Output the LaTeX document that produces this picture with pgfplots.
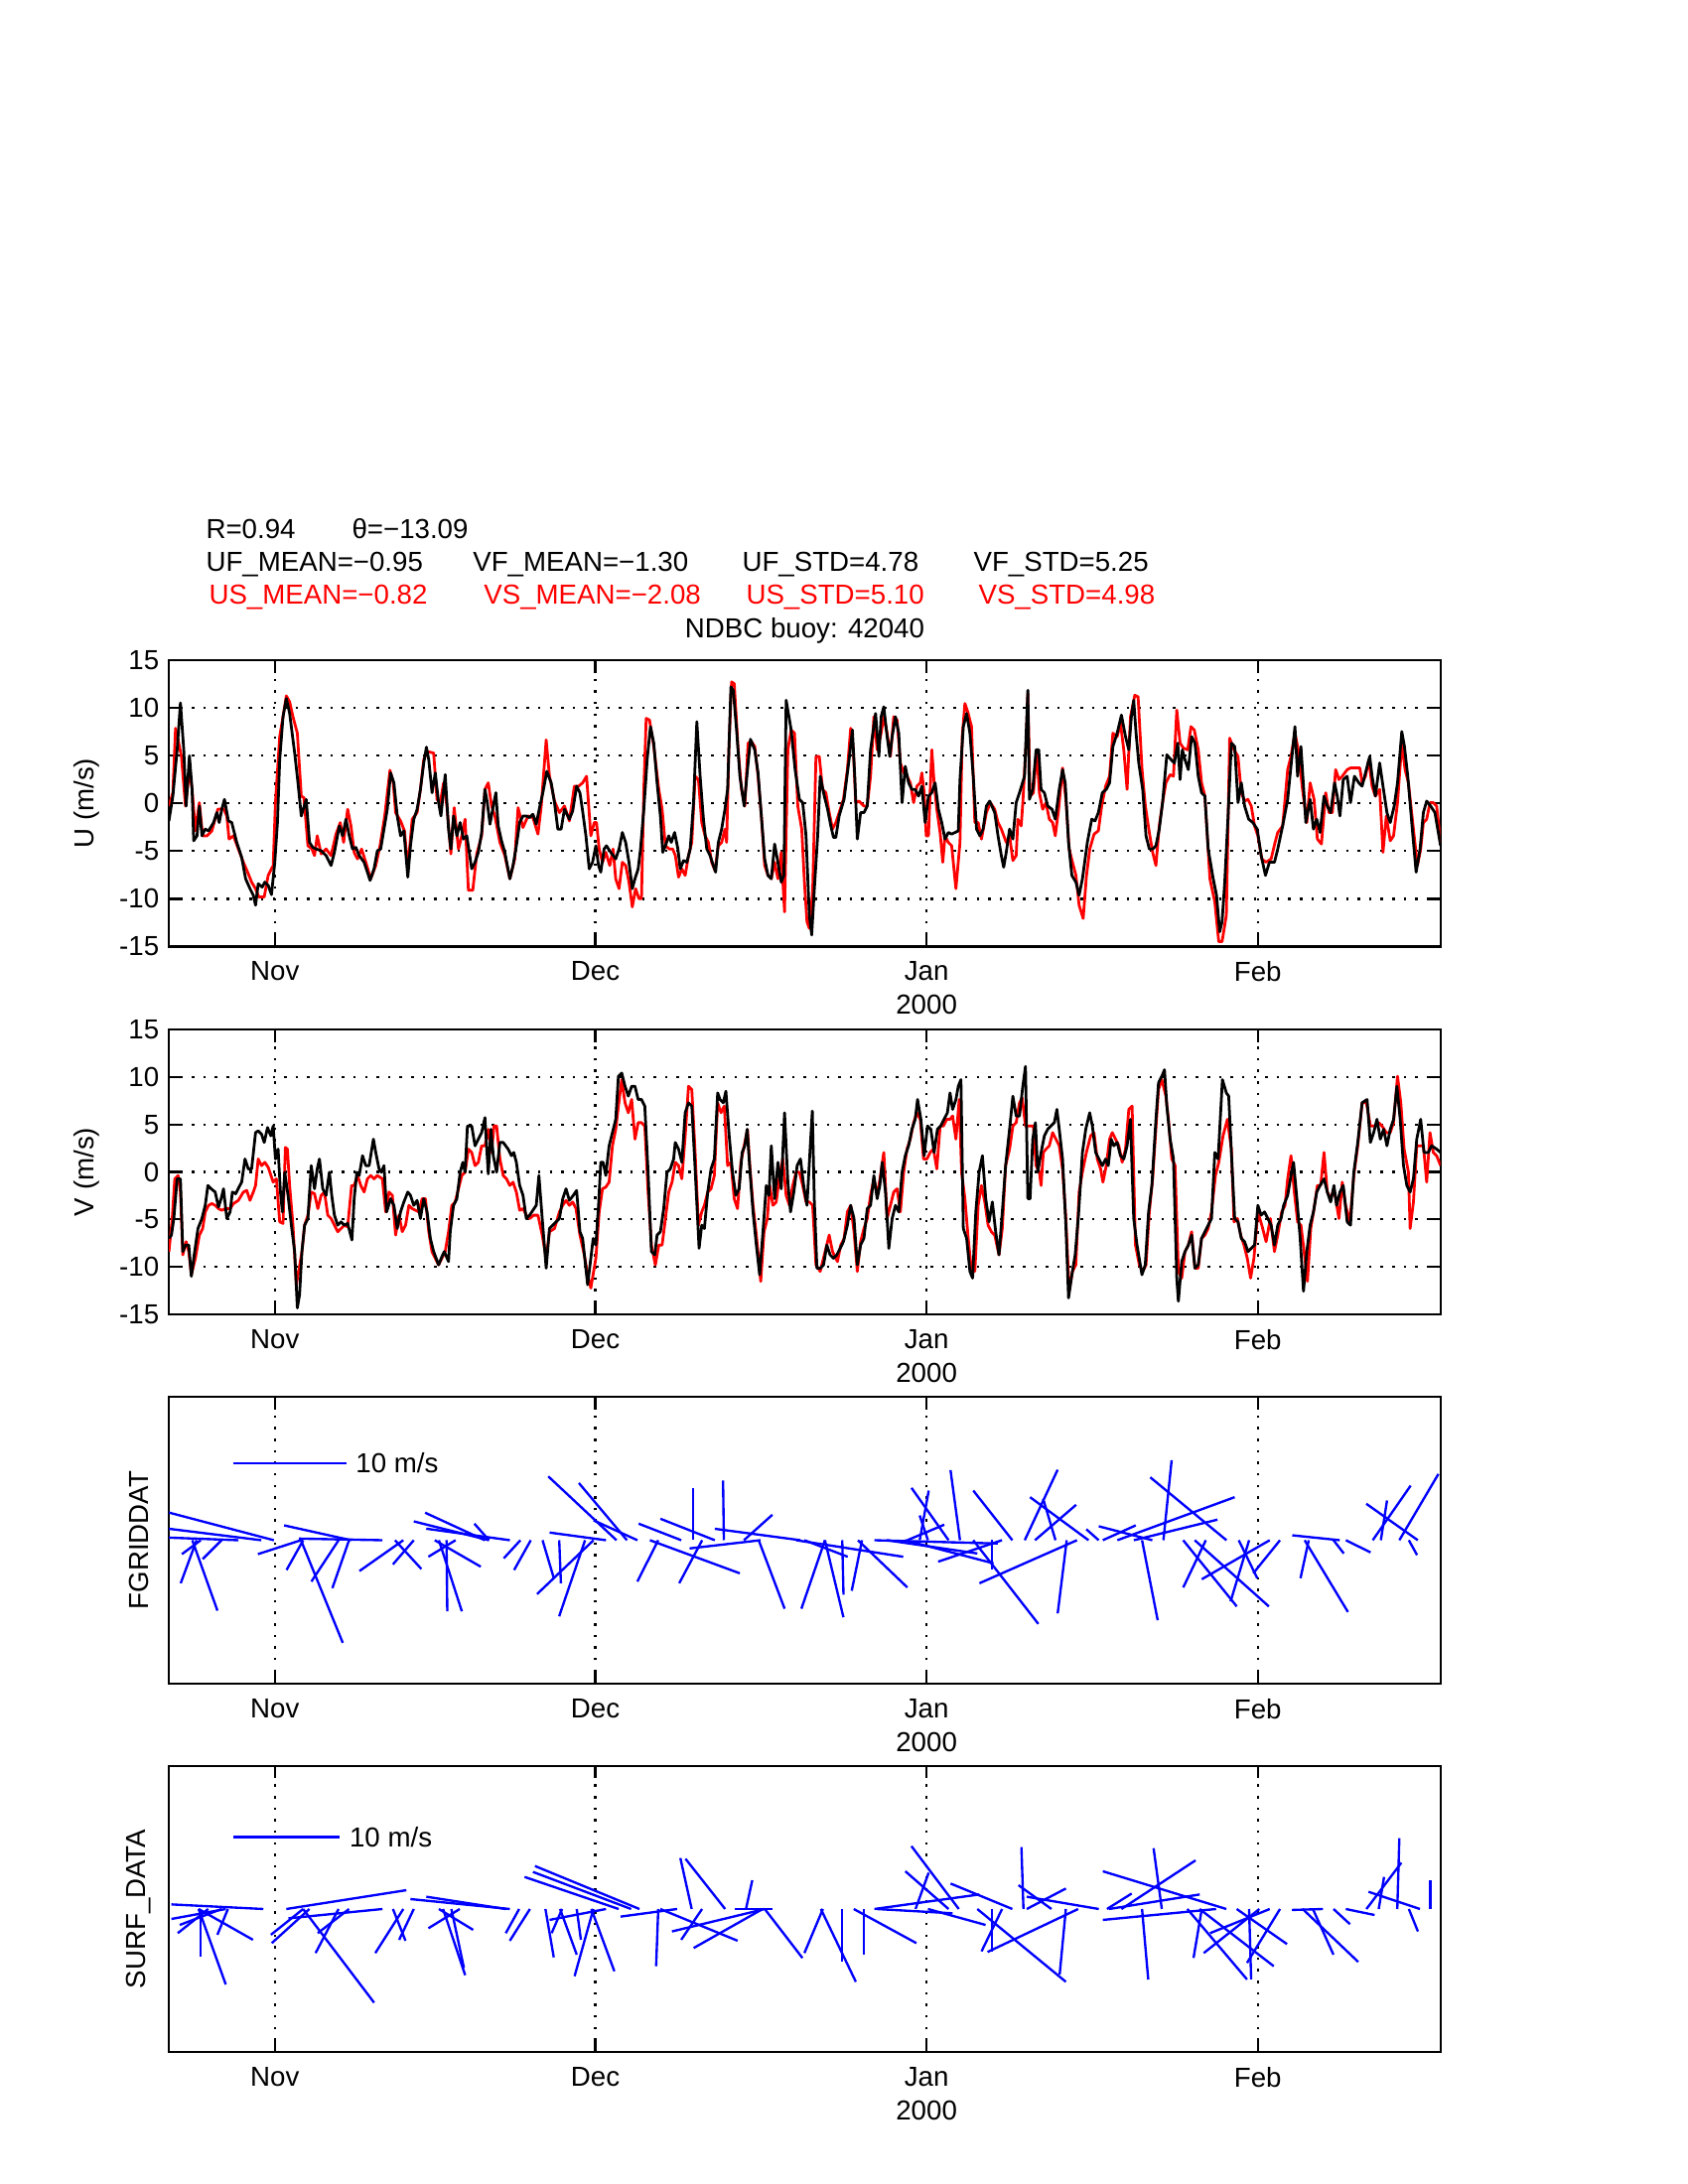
\documentclass[border=0pt]{standalone}
\usepackage{fontspec}
\setmainfont{Liberation Sans}
\usepackage{pgfplots}
\pgfplotsset{compat=1.18}
\pgfplotsset{
  mlab/.style={
    scale only axis, width=462.78pt, anchor=south west,
    xmin=-9.92, xmax=109.1,
    xtick={0,30,61,92}, xticklabels={Nov,Dec,{Jan\\2000},Feb},
    xticklabel style={align=center, yshift=-2pt, font=\fontsize{10}{12.3}\selectfont},
    tick align=inside, xtick pos=both, ytick pos=both,
    major tick length=4.6pt,
    every tick/.style={black, line width=0.8pt},
    axis line style={line width=0.8pt},
    major grid style={black, line width=0.8pt, dash pattern=on 0.9pt off 3.3pt},
    /pgf/number format/assume math mode=true,
    every axis y label/.style={at={(axis description cs:-0.0648,0.5)}, rotate=90, anchor=center},
  },
  ts/.style={mlab, ymin=-15, ymax=15, ytick={-15,-10,-5,0,5,10,15},
    yticklabels={-15,-10,-5,0,5,10,15}, grid=major},
  st/.style={mlab, ytick=\empty, xmajorgrids,
    every axis y label/.style={at={(axis description cs:-0.0234,0.5)}, rotate=90, anchor=center}},
  dl/.style={line width=1pt, line join=round},
  stk/.style={blue, line width=0.85pt},
}
\begin{document}
\begin{tikzpicture}
\useasboundingbox (0,0) rectangle (614.3pt,794.97pt);
% header
\node[anchor=base west, inner sep=0] at (74.80pt,598.76pt) {R=0.94};
\node[anchor=base west, inner sep=0] at (127.92pt,598.76pt) {θ=−13.09};
\node[anchor=base west, inner sep=0] at (74.80pt,586.94pt) {UF\_MEAN=−0.95};
\node[anchor=base west, inner sep=0] at (171.93pt,586.94pt) {VF\_MEAN=−1.30};
\node[anchor=base west, inner sep=0] at (269.93pt,586.94pt) {UF\_STD=4.78};
\node[anchor=base west, inner sep=0] at (354.12pt,586.94pt) {VF\_STD=5.25};
\node[anchor=base west, inner sep=0, red] at (75.88pt,574.91pt) {US\_MEAN=−0.82};
\node[anchor=base west, inner sep=0, red] at (175.91pt,574.91pt) {VS\_MEAN=−2.08};
\node[anchor=base west, inner sep=0, red] at (271.37pt,574.91pt) {US\_STD=5.10};
\node[anchor=base west, inner sep=0, red] at (355.93pt,574.91pt) {VS\_STD=4.98};
\node[anchor=base, inner sep=0] at (292.87pt,562.62pt) {NDBC buoy: 42040};

% ---------------- Panel 1: U ----------------
\begin{axis}[ts, at={(61.43pt,450.42pt)}, height=104.25pt, ylabel={U (m/s)}]
\addplot[red, dl] table {
x y
-9.91 -0.28
-9.54 1.11
-9.29 7.87
-9.05 6.65
-8.74 4.92
-8.36 -0.28
-7.99 3.53
-7.74 1.46
-7.43 -2.88
-7.06 0.07
-6.75 -3.40
-6.35 -3.40
-5.89 -2.88
-5.33 -0.62
-4.80 -0.55
-4.49 -1.32
-4.28 -3.74
-3.87 -3.40
-3.41 -4.78
-2.94 -6.17
-2.54 -7.21
-2.17 -8.25
-1.80 -8.94
-1.49 -9.81
-0.99 -9.81
-0.62 -7.55
-0.15 -6.51
0.06 0.07
0.46 7.00
0.77 9.08
1.08 11.26
1.39 10.64
1.70 9.08
2.11 7.35
2.48 0.76
2.73 0.59
3.10 -4.44
3.47 -4.78
3.72 -5.47
3.97 -3.40
4.34 -5.30
4.80 -4.78
5.27 -5.47
5.73 -3.22
6.13 -2.01
6.44 -4.09
6.82 -0.62
7.13 -2.36
7.43 -5.13
7.74 -5.82
8.12 -4.78
8.52 -6.17
8.98 -7.90
9.45 -6.51
9.85 -4.44
10.29 -1.32
10.78 3.47
11.09 2.15
11.31 -0.97
11.77 -1.84
12.14 -2.88
12.45 -6.86
12.86 -1.66
13.32 -0.97
13.63 1.46
13.94 4.57
14.25 5.44
14.87 5.27
15.18 0.42
15.49 0.07
15.80 2.15
16.11 -0.28
16.48 -5.30
16.79 -0.45
17.19 -4.78
17.50 -3.40
17.81 -1.66
18.12 -9.11
18.53 -9.11
18.90 -5.30
19.36 -3.40
19.67 1.46
19.98 2.15
20.29 -0.28
20.60 -1.32
21.07 -4.09
21.53 -5.47
22.00 -7.90
22.46 -5.82
22.77 -0.45
23.23 -2.53
23.70 -1.32
24.16 -1.49
24.63 -3.22
24.94 -0.28
25.40 6.65
25.71 2.84
26.18 0.24
26.64 -0.97
27.11 -0.28
27.57 -1.84
28.04 1.80
28.44 1.80
28.81 2.15
29.18 2.84
29.58 -3.40
29.90 -2.01
30.11 -2.01
30.36 -4.78
30.67 -6.17
30.98 -5.13
31.35 -6.51
31.66 -4.78
31.91 -7.90
32.22 -8.94
32.53 -6.17
32.84 -6.51
33.15 -8.25
33.46 -10.85
33.77 -8.94
34.08 -9.98
34.32 -9.98
34.54 1.46
34.76 8.91
35.07 8.73
35.47 5.96
35.94 1.46
36.25 -0.62
36.56 -4.44
36.93 -4.78
37.24 -4.78
37.49 -5.47
37.79 -7.73
38.10 -6.86
38.41 -7.55
38.72 -5.47
39.03 -4.09
39.34 2.84
39.65 2.49
39.96 -2.01
40.27 -3.40
40.58 -4.09
40.89 -6.17
41.20 -7.03
41.51 -4.44
41.82 -4.09
42.13 -2.70
42.29 -4.09
42.50 5.61
42.75 12.72
43.00 12.54
43.37 5.61
43.68 1.46
43.99 -0.28
44.30 6.31
44.61 6.48
44.92 5.96
45.23 2.84
45.54 -1.32
45.85 -6.51
46.16 -7.55
46.47 -7.90
46.78 -6.17
47.09 -7.90
47.40 -5.13
47.71 -11.37
48.02 5.61
48.33 7.69
48.64 7.35
48.95 -0.28
49.32 -2.70
49.57 -8.25
49.81 -12.40
50.03 -13.10
50.34 -9.29
50.65 4.92
50.96 4.92
51.27 1.46
51.58 1.11
51.89 -0.97
52.20 -2.70
52.51 -2.01
52.82 -0.97
53.22 0.42
53.59 3.53
53.90 7.87
54.15 5.61
54.37 0.07
54.68 0.24
55.14 -0.28
55.45 -0.28
55.76 2.84
56.07 9.08
56.38 5.61
56.69 7.00
57.00 9.08
57.31 7.35
57.62 4.92
57.93 9.08
58.24 8.73
58.55 4.23
58.86 3.19
59.17 2.84
59.48 2.15
59.79 0.07
60.10 1.80
60.41 2.15
60.56 3.19
60.78 1.11
60.97 -3.40
61.18 -3.40
61.49 5.61
61.71 2.15
61.96 -0.62
62.27 -3.05
62.52 -6.17
62.73 -3.40
63.04 -4.09
63.35 -4.44
63.75 -8.94
64.13 -4.09
64.34 7.00
64.59 10.46
64.90 9.42
65.21 8.04
65.52 -2.01
65.83 -2.01
66.14 -3.74
66.60 -0.97
66.98 0.07
67.38 -0.62
67.69 -2.01
68.00 -2.70
68.46 -4.09
68.77 -3.40
69.08 -5.99
69.39 -5.47
69.55 -1.66
69.86 -2.36
70.01 0.07
70.32 6.31
70.48 11.50
70.69 0.76
71.00 1.11
71.31 5.61
71.56 1.11
71.87 -0.62
72.18 0.07
72.49 -1.66
72.80 -2.01
73.05 -3.40
73.36 -0.62
73.73 3.71
74.04 0.42
74.35 -4.78
74.66 -6.17
74.98 -7.55
75.28 -10.67
75.66 -12.06
75.97 -7.55
76.28 -4.78
76.68 -3.22
77.08 -2.88
77.39 -0.28
77.76 1.80
78.13 2.84
78.44 7.35
78.84 7.00
79.15 8.39
79.46 5.61
79.77 1.46
80.09 9.08
80.49 11.33
80.80 11.16
81.17 3.53
81.48 -0.28
81.85 -3.05
82.16 -5.13
82.47 -6.51
82.78 -2.36
83.09 0.07
83.40 2.15
83.80 3.01
84.11 2.84
84.42 9.77
84.73 6.31
85.04 5.79
85.44 5.61
85.75 8.04
86.06 7.69
86.43 5.61
86.74 2.15
87.05 0.76
87.52 -7.90
87.98 -10.33
88.35 -14.48
88.66 -14.48
89.06 -11.71
89.37 6.83
89.78 5.61
90.15 4.92
90.46 1.11
90.77 0.24
91.08 0.42
91.39 -0.28
91.70 -2.36
92.01 -3.40
92.38 -5.82
92.78 -6.17
93.25 -5.82
93.62 -4.09
93.87 -3.05
94.33 -2.36
94.80 3.53
95.11 4.92
95.48 7.35
95.79 5.61
96.19 1.46
96.59 -2.01
96.90 2.15
97.27 0.42
97.58 -3.74
97.96 -4.26
98.36 1.11
98.67 -0.97
98.98 -0.97
99.29 3.53
99.60 2.49
99.91 2.84
100.37 3.53
100.68 3.71
101.15 3.71
101.55 3.71
101.77 2.15
102.08 2.84
102.39 4.57
102.70 1.80
103.01 0.76
103.41 1.46
103.72 -5.13
104.03 -1.32
104.40 -3.92
104.71 -3.40
105.08 0.07
105.48 6.31
105.79 3.53
106.10 2.15
106.57 -2.70
106.94 -6.51
107.25 -4.78
107.50 -2.01
107.81 -1.66
108.12 0.07
108.43 0.07
108.74 -0.28
109.11 -4.09
};
\addplot[black, dl] table {
x y
-9.91 -1.84
-9.54 0.76
-9.14 5.61
-8.83 10.53
-8.52 5.61
-8.30 -0.28
-7.99 4.99
-7.74 1.46
-7.59 -3.92
-7.28 -3.40
-7.06 -0.28
-6.82 -3.40
-6.51 -2.70
-6.20 -2.88
-5.73 -2.01
-5.42 -0.97
-5.20 -2.01
-4.96 -0.62
-4.71 0.42
-4.34 -1.84
-4.03 -2.01
-3.56 -4.09
-3.10 -5.65
-2.73 -7.90
-2.32 -8.94
-2.01 -9.63
-1.80 -10.67
-1.55 -8.42
-1.18 -8.77
-0.93 -8.25
-0.62 -8.59
-0.31 -9.56
0.00 -6.17
0.25 -2.01
0.46 4.57
0.77 9.08
1.08 10.98
1.39 9.42
1.86 5.27
2.17 2.15
2.48 -1.32
2.94 0.42
3.25 -4.09
3.56 -4.61
3.87 -4.78
4.34 -4.96
4.80 -5.47
5.27 -6.51
5.58 -5.13
6.04 -2.36
6.35 -3.40
6.66 -1.66
6.97 -3.40
7.28 -4.78
7.59 -4.61
7.90 -5.47
8.36 -6.17
8.92 -8.07
9.29 -6.86
9.60 -4.96
9.91 -4.78
10.22 -2.70
10.53 -0.62
10.84 3.19
11.15 2.15
11.46 -1.32
11.77 -3.40
12.08 -2.88
12.45 -7.73
12.70 -4.44
13.01 -1.66
13.32 -0.62
13.63 1.46
13.94 4.23
14.19 5.89
14.41 4.57
14.72 1.11
15.02 3.19
15.33 0.07
15.55 -1.32
15.95 3.01
16.26 -2.70
16.48 -4.78
16.73 -1.32
17.04 -3.40
17.35 -2.01
17.66 -3.74
17.97 -3.40
18.43 -6.86
18.74 -6.17
19.05 -5.13
19.36 -3.05
19.67 1.46
19.89 0.07
20.14 -2.18
20.45 -0.28
20.69 1.11
20.91 -2.36
21.22 -3.92
21.53 -5.13
22.00 -7.90
22.30 -6.51
22.61 -4.44
22.92 -2.01
23.23 -1.32
23.54 -1.32
23.85 -1.49
24.16 -1.14
24.47 -2.18
24.78 -0.45
25.09 1.11
25.46 3.36
25.87 2.15
26.18 0.07
26.49 -2.70
26.80 -2.70
27.11 -0.62
27.57 -1.66
27.88 -0.80
28.25 1.80
28.56 1.11
28.81 -0.80
29.12 -3.40
29.43 -6.86
29.74 -6.17
30.05 -4.44
30.30 -6.51
30.51 -7.21
30.82 -4.78
31.04 -4.44
31.44 -5.13
31.91 -5.82
32.22 -4.78
32.53 -3.05
32.84 -4.09
33.15 -6.17
33.46 -8.94
33.71 -7.90
34.01 -6.86
34.23 -4.78
34.54 -0.62
34.85 4.57
35.16 8.04
35.47 6.31
35.78 2.15
36.09 -1.32
36.31 -5.13
36.56 -4.44
36.87 -3.40
37.11 -4.09
37.42 -3.05
37.73 -4.78
37.95 -6.86
38.26 -5.99
38.57 -6.17
38.88 -4.78
39.19 0.07
39.50 8.56
39.81 2.84
40.12 -1.66
40.43 -4.78
40.74 -5.47
41.05 -6.51
41.26 -7.21
41.51 -4.09
41.82 -2.70
42.13 -0.62
42.38 1.46
42.69 12.20
42.91 11.85
43.22 7.69
43.53 2.84
43.93 -0.28
44.24 3.53
44.52 6.72
44.92 5.61
45.23 3.19
45.54 -1.32
45.85 -5.82
46.16 -7.55
46.47 -7.90
46.78 -4.26
47.09 -6.17
47.40 -8.25
47.65 -7.55
47.86 10.81
48.33 7.69
48.70 3.53
49.10 0.42
49.41 0.07
49.72 -3.40
50.03 -11.71
50.25 -13.79
50.50 -8.94
50.81 -3.40
51.05 2.84
51.43 0.76
51.74 -0.62
52.04 -2.36
52.29 -3.57
52.51 -3.57
52.82 -1.32
53.28 0.42
53.75 4.57
54.06 7.69
54.28 2.84
54.52 -3.74
54.83 -0.97
55.14 -0.97
55.45 -0.28
55.76 5.61
56.23 9.42
56.54 4.92
56.75 9.08
57.00 10.12
57.31 7.00
57.56 4.92
57.78 7.00
58.09 9.08
58.40 7.35
58.71 0.07
59.01 3.88
59.32 2.15
59.63 1.46
59.94 1.46
60.25 0.76
60.56 1.80
60.87 -2.01
61.18 0.76
61.49 1.11
61.80 2.15
62.11 -0.62
62.42 -2.01
62.73 -3.74
63.04 -3.05
63.35 -3.22
63.97 -2.88
64.13 2.49
64.44 8.04
64.75 9.42
65.06 7.35
65.37 2.84
65.68 -2.70
65.99 -3.40
66.29 -2.70
66.60 -0.28
66.91 0.24
67.38 -0.97
67.69 -3.40
68.00 -5.47
68.22 -6.69
68.46 -5.13
68.77 -2.70
69.08 -3.74
69.39 0.07
69.70 1.11
70.17 2.84
70.48 11.85
70.63 0.42
70.94 1.46
71.25 5.61
71.50 5.61
71.72 1.46
72.03 1.11
72.34 -0.28
72.74 -0.62
73.05 -1.66
73.42 1.46
73.73 3.53
73.98 2.15
74.29 -4.09
74.60 -7.55
74.98 -8.25
75.28 -9.63
75.59 -7.90
76.05 -4.09
76.46 -1.66
76.77 -1.84
77.08 -0.97
77.45 1.11
77.82 1.46
78.13 2.15
78.44 5.96
78.84 7.35
79.24 9.25
79.62 7.00
79.93 5.61
80.17 9.08
80.39 10.81
80.61 7.35
80.86 4.23
81.23 1.46
81.54 -3.40
81.85 -4.78
82.16 -4.78
82.47 -4.44
82.78 -2.70
83.09 0.07
83.49 5.09
83.89 4.57
84.20 4.23
84.51 6.31
84.73 2.49
84.94 5.61
85.19 4.57
85.50 3.53
85.81 7.00
86.12 6.31
86.43 2.84
86.74 1.11
87.05 0.76
87.36 -4.78
87.83 -7.90
88.14 -9.63
88.44 -13.45
88.66 -12.40
88.91 -8.25
89.22 -1.32
89.53 6.31
89.84 5.96
90.15 0.07
90.46 2.15
90.77 -0.28
91.15 -1.66
91.54 -2.01
91.95 -2.70
92.32 -5.47
92.72 -7.55
93.09 -6.17
93.56 -6.17
93.87 -4.78
94.33 -2.36
94.80 0.42
95.17 4.57
95.48 8.04
95.73 2.84
96.04 5.96
96.50 -2.01
96.90 0.42
97.21 -2.70
97.52 -1.66
97.83 -3.05
98.20 0.76
98.51 -0.28
98.82 -0.97
99.19 2.15
99.44 0.76
99.69 -1.32
100.00 2.49
100.37 2.84
100.68 0.07
101.05 2.84
101.46 2.15
101.77 1.80
102.08 3.19
102.48 4.92
102.70 2.84
103.01 0.76
103.41 4.23
103.72 1.80
104.09 -0.97
104.40 -2.01
104.77 -0.28
105.08 2.15
105.48 7.52
105.73 5.96
106.04 2.84
106.41 -2.01
106.82 -7.21
107.19 -4.78
107.50 -0.97
107.81 0.24
108.18 -0.28
108.58 -0.97
109.11 -4.44
};
\end{axis}

% ---------------- Panel 2: V ----------------
\begin{axis}[ts, at={(61.43pt,316.54pt)}, height=103.71pt, ylabel={V (m/s)}]
\addplot[red, dl] table {
x y
-9.91 -8.39
-9.60 -4.91
-9.36 -0.73
-9.05 -0.38
-8.83 -2.12
-8.61 -8.74
-8.30 -7.35
-8.05 -8.39
-7.81 -10.83
-7.43 -9.09
-7.06 -6.65
-6.75 -5.96
-6.51 -4.21
-6.20 -3.52
-5.89 -3.34
-5.58 -3.52
-5.27 -3.87
-4.96 -4.04
-4.65 -3.87
-4.18 -3.87
-3.87 -3.34
-3.41 -3.00
-2.94 -2.12
-2.63 -1.95
-2.32 -3.00
-2.01 -2.12
-1.80 -1.43
-1.55 1.36
-1.24 0.66
-0.93 1.01
-0.62 0.49
-0.15 -1.08
0.15 -0.73
0.46 -5.26
0.77 -5.43
0.99 2.58
1.18 2.40
1.39 -1.43
1.70 -5.61
2.01 -11.88
2.23 -10.48
2.54 -8.39
2.79 -5.61
3.10 -4.56
3.41 -2.12
3.72 -2.30
4.03 -3.87
4.34 -2.47
4.65 -2.12
4.96 -4.56
5.27 -4.91
5.58 -5.61
5.89 -6.30
6.20 -5.96
6.51 -5.61
6.82 -5.78
7.19 -1.43
7.43 -1.43
7.74 -0.38
8.05 -1.43
8.36 -2.12
8.67 -0.73
8.98 -0.38
9.29 -0.73
9.60 -0.38
10.07 -0.73
10.38 -4.21
10.69 -2.12
11.00 -2.47
11.31 -6.65
11.62 -4.56
11.93 -6.30
12.24 -5.61
12.55 -3.52
12.86 -3.87
13.17 -4.04
13.48 -4.21
13.79 -2.82
14.10 -2.82
14.41 -6.30
14.71 -8.39
15.02 -9.09
15.33 -9.79
15.64 -9.09
15.95 -8.39
16.26 -6.30
16.57 -3.52
16.88 -3.17
17.19 -1.78
17.50 -0.38
17.81 -0.03
18.12 2.40
18.43 2.05
18.74 0.66
19.05 1.01
19.36 2.75
19.67 2.75
19.98 4.49
20.29 2.05
20.51 4.84
20.76 4.84
21.07 1.36
21.38 -0.38
21.69 -0.73
22.00 -1.43
22.30 -1.08
22.61 -2.12
22.92 -4.04
23.23 -3.87
23.54 -4.56
23.85 -4.91
24.23 -4.56
24.63 -4.56
25.03 -6.65
25.40 -9.09
25.71 -6.30
26.18 -5.96
26.64 -4.21
26.95 -3.52
27.26 -3.00
27.57 -3.52
27.88 -3.17
28.19 -3.87
28.56 -6.65
28.97 -8.74
29.28 -10.83
29.58 -12.23
30.05 -9.09
30.36 -4.21
30.67 -1.78
30.98 -1.60
31.29 -1.08
31.60 2.75
31.91 4.49
32.16 6.93
32.47 9.72
32.78 7.28
33.09 6.23
33.40 7.63
33.71 3.45
34.01 5.19
34.32 5.19
34.63 4.84
34.94 -2.12
35.25 -7.70
35.62 -9.79
35.94 -7.70
36.25 -7.70
36.56 -4.91
36.87 -2.12
37.18 -1.08
37.49 1.01
37.79 0.66
38.10 -0.73
38.41 3.80
38.72 9.02
39.03 8.67
39.34 2.05
39.65 -5.61
39.96 -4.21
40.21 -3.52
40.52 -2.12
40.83 -1.78
41.14 -0.38
41.45 7.28
41.76 6.23
42.07 6.93
42.38 0.66
42.69 1.01
43.00 -2.82
43.31 -3.87
43.62 1.01
43.93 2.75
44.24 4.49
44.46 0.66
44.76 -3.52
45.07 -6.65
45.48 -11.53
45.79 -6.30
46.10 -4.91
46.32 -1.43
46.62 -3.52
46.93 -3.17
47.24 -0.38
47.55 1.36
47.86 -2.47
48.17 -3.52
48.48 -1.43
48.79 -0.03
49.10 -0.03
49.41 -1.43
49.72 -3.17
50.03 -3.17
50.34 -3.52
50.65 -9.79
51.05 -10.48
51.43 -8.74
51.89 -6.65
52.20 -8.39
52.66 -9.44
52.97 -7.70
53.28 -7.00
53.59 -4.21
53.90 -3.52
54.21 -6.30
54.52 -10.48
54.83 -7.35
55.14 -5.96
55.45 -4.91
55.76 -2.47
56.07 -0.73
56.38 -2.47
56.69 -0.38
57.00 2.05
57.31 -4.91
57.62 -3.52
57.93 -2.12
58.24 -1.78
58.55 -4.21
58.86 -0.03
59.17 2.40
59.48 3.45
59.79 5.19
60.10 6.23
60.41 5.54
60.72 1.36
61.03 1.36
61.34 2.05
61.65 2.40
61.96 0.31
62.27 4.84
62.58 4.84
62.89 5.54
63.20 5.54
63.44 5.89
63.75 3.45
64.06 7.63
64.28 -0.03
64.59 -2.82
64.90 -7.00
65.21 -10.48
65.52 -10.48
65.83 -3.52
66.14 -1.43
66.45 -3.17
66.76 -5.61
67.07 -6.30
67.38 -6.65
67.78 -8.74
68.09 -5.96
68.40 0.66
68.77 2.40
69.08 4.84
69.39 5.19
69.70 7.28
69.95 7.80
70.26 4.84
70.57 4.84
71.00 4.84
71.25 0.66
71.56 -0.03
71.72 -1.43
71.93 2.05
72.18 2.40
72.49 2.75
72.80 4.14
73.11 3.45
73.42 2.75
73.73 0.31
74.04 -4.91
74.35 -12.57
74.66 -10.48
74.97 -9.79
75.28 -2.12
75.59 -0.03
75.96 2.05
76.36 3.80
76.67 4.14
76.98 1.36
77.29 0.31
77.51 -1.08
77.82 0.66
78.13 3.45
78.38 4.14
78.69 3.45
79.00 2.75
79.31 1.01
79.62 2.40
79.93 6.58
80.24 6.93
80.55 -7.70
80.92 -9.79
81.23 -10.48
81.54 -9.79
81.85 -4.21
82.16 -0.73
82.40 3.45
82.71 8.67
83.02 9.72
83.40 7.98
83.64 5.54
83.95 1.36
84.26 0.66
84.57 -10.48
84.88 -11.18
85.19 -8.39
85.50 -7.70
85.81 -6.30
86.12 -10.14
86.43 -10.14
86.74 -7.00
87.05 -6.65
87.36 -5.96
87.67 -4.21
88.04 -0.38
88.35 1.01
88.75 3.80
89.16 5.54
89.53 2.40
89.78 -5.26
90.09 -4.91
90.40 -6.65
90.71 -7.70
91.02 -9.09
91.33 -11.18
91.64 -9.09
92.01 -4.21
92.38 -5.61
92.78 -7.35
93.18 -4.91
93.56 -8.39
93.87 -6.65
94.24 -4.21
94.55 -3.52
94.80 -0.73
95.11 1.71
95.42 -2.12
95.73 -5.26
96.04 -5.61
96.34 -8.39
96.65 -11.53
96.96 -5.96
97.27 -3.87
97.58 -1.43
97.89 -1.43
98.20 2.05
98.51 -2.12
98.82 -2.82
99.13 -1.78
99.60 -4.91
99.91 -1.08
100.22 -3.52
100.62 -5.26
100.99 -0.38
101.36 2.75
101.77 7.28
102.17 7.28
102.54 4.84
102.91 4.84
103.31 5.19
103.62 4.84
104.03 4.14
104.40 4.14
104.71 5.19
105.08 10.07
105.39 7.28
105.70 2.40
106.10 -0.03
106.26 -5.96
106.57 -3.17
106.88 2.75
107.19 2.75
107.50 2.75
107.81 -1.08
108.12 4.14
108.43 2.05
108.74 1.71
109.11 0.66
};
\addplot[black, dl] table {
x y
-9.91 -7.00
-9.67 -6.65
-9.45 -4.91
-9.14 -0.73
-8.83 -0.73
-8.61 -8.39
-8.36 -7.70
-8.05 -7.70
-7.81 -11.00
-7.50 -8.39
-7.19 -5.96
-6.82 -4.91
-6.51 -3.52
-6.26 -1.43
-5.95 -1.78
-5.58 -2.12
-5.27 -3.69
-5.02 -2.82
-4.80 -1.78
-4.49 -4.91
-4.18 -4.21
-3.97 -2.12
-3.66 -2.30
-3.35 -1.60
-3.10 -1.08
-2.79 1.36
-2.48 0.31
-2.17 0.31
-1.80 4.14
-1.55 4.32
-1.24 3.97
-0.99 3.10
-0.68 4.67
-0.37 3.80
-0.15 4.84
0.06 1.36
0.31 2.40
0.53 -2.12
0.71 -4.21
0.93 -0.03
1.24 -2.47
1.55 -5.61
1.86 -8.39
2.11 -14.32
2.32 -12.92
2.54 -8.39
2.79 -5.61
3.10 -4.91
3.41 0.66
3.72 -1.78
3.97 0.31
4.18 1.36
4.49 -1.78
4.80 -2.47
5.11 -0.03
5.33 -2.47
5.58 -4.56
5.89 -5.61
6.20 -5.26
6.51 -5.61
6.82 -5.43
7.22 -7.17
7.43 -2.82
7.68 -0.03
7.90 -0.38
8.21 1.71
8.52 0.66
8.83 0.66
9.23 3.45
9.45 2.05
9.76 0.31
9.98 -0.03
10.22 0.66
10.47 -4.21
10.84 -2.82
11.15 -3.52
11.46 -5.96
11.77 -4.21
12.08 -3.17
12.45 -2.12
12.70 -2.47
13.01 -3.52
13.32 -3.00
13.63 -4.91
13.94 -2.82
14.25 -4.21
14.56 -7.00
14.87 -8.39
15.33 -9.79
15.64 -8.92
15.86 -8.39
16.26 -9.44
16.42 -6.30
16.73 -3.52
17.04 -2.82
17.35 -0.03
17.60 1.01
17.81 -0.03
18.03 4.84
18.43 4.84
18.74 2.75
19.05 3.45
19.36 4.14
19.67 5.71
19.98 -0.21
20.23 4.49
20.45 1.71
20.76 -0.03
21.07 3.10
21.38 3.10
21.84 2.40
22.15 1.71
22.37 2.05
22.61 1.01
22.92 -1.43
23.23 -2.47
23.54 -4.91
23.85 -4.56
24.16 -4.04
24.47 -3.52
24.72 -0.38
25.03 -4.91
25.40 -10.14
25.71 -5.96
26.18 -5.43
26.64 -4.91
26.95 -2.82
27.26 -1.78
27.57 -3.00
27.94 -2.47
28.25 -1.95
28.56 -6.30
28.81 -7.00
29.28 -11.88
29.58 -9.09
29.80 -7.00
30.05 -7.70
30.30 -3.52
30.51 1.01
30.73 1.01
30.98 -0.38
31.29 2.75
31.60 4.14
31.91 5.54
32.16 10.07
32.47 10.41
32.78 9.02
33.09 7.98
33.40 9.02
33.71 9.02
34.01 7.63
34.32 7.63
34.63 6.93
34.94 -0.03
35.25 -8.39
35.56 -8.74
35.78 -6.65
36.09 -6.30
36.40 -3.87
36.71 -0.03
37.02 0.31
37.33 1.36
37.48 3.10
37.79 2.40
38.10 1.01
38.41 6.23
38.72 7.28
39.03 6.93
39.34 0.31
39.71 -8.05
39.96 -5.61
40.21 -5.96
40.52 -2.12
40.83 0.31
41.14 1.36
41.45 8.32
41.67 7.63
41.98 7.28
42.22 8.50
42.53 3.80
42.84 -0.03
43.15 -2.47
43.46 -1.78
43.74 2.05
43.99 2.75
44.21 4.49
44.46 0.31
44.76 -4.21
45.07 -7.70
45.38 -10.83
45.69 -6.30
46.00 -1.43
46.25 -2.47
46.47 2.75
46.78 -2.82
47.09 1.01
47.40 -1.78
47.71 6.23
48.02 -1.08
48.27 -4.21
48.58 -2.12
48.89 0.66
49.20 1.36
49.50 -1.43
49.81 -3.52
50.12 2.75
50.31 6.41
50.50 -3.17
50.74 -10.14
51.05 -10.14
51.36 -9.79
51.67 -7.70
51.98 -8.74
52.29 -9.09
52.60 -8.74
52.91 -8.05
53.22 -7.35
53.59 -5.61
53.90 -3.52
54.21 -4.91
54.52 -9.79
54.83 -7.70
55.14 -7.00
55.45 -3.87
55.76 -3.52
56.07 -0.38
56.38 -2.82
56.63 -1.43
56.85 1.01
57.16 -2.12
57.47 -8.05
57.78 -4.91
58.09 -3.52
58.40 -4.21
58.71 -0.03
59.01 1.71
59.32 2.75
59.63 4.49
59.94 5.54
60.16 7.63
60.47 5.54
60.78 1.71
61.09 4.84
61.40 4.49
61.71 2.05
62.02 4.49
62.33 4.84
62.64 5.54
62.95 6.23
63.20 8.32
63.44 6.58
63.75 7.63
63.97 9.02
64.22 9.72
64.44 -5.96
64.75 -7.00
65.06 -10.48
65.31 -11.18
65.61 -4.21
65.92 -0.03
66.23 1.71
66.54 -2.82
66.85 -5.26
67.16 -3.17
67.47 -6.30
67.78 -8.74
68.09 -4.21
68.40 0.66
68.77 4.49
69.08 7.98
69.39 5.89
69.70 5.89
70.01 9.02
70.26 11.11
70.48 -2.82
70.69 -2.82
70.94 3.45
71.19 5.19
71.41 -0.03
71.72 2.05
72.03 3.80
72.34 4.49
72.65 4.84
72.96 5.19
73.20 6.58
73.42 4.49
73.73 1.36
74.04 -5.61
74.29 -13.27
74.60 -10.83
74.91 -8.74
75.22 -4.56
75.59 2.05
75.90 4.49
76.27 6.23
76.52 4.84
76.83 2.05
77.14 1.36
77.45 0.66
77.76 1.36
78.01 0.66
78.28 3.45
78.53 2.75
78.84 3.10
79.15 1.71
79.46 1.36
79.77 2.75
80.08 5.54
80.39 -4.91
80.70 -7.70
81.16 -10.83
81.47 -9.79
81.78 -4.21
82.09 -1.43
82.47 5.54
82.71 9.37
83.02 10.07
83.27 10.76
83.49 6.93
83.80 3.45
84.11 1.36
84.42 -11.18
84.57 -13.62
84.88 -9.44
85.19 -8.39
85.50 -7.70
85.81 -6.65
86.12 -10.14
86.43 -9.79
86.74 -7.00
87.05 -6.30
87.36 -5.61
87.67 -4.91
87.98 2.05
88.29 1.36
88.69 9.72
89.06 8.32
89.28 7.98
89.53 2.05
89.84 -4.91
90.15 -5.26
90.46 -7.00
90.77 -7.35
91.08 -8.39
91.39 -8.05
91.70 -7.70
92.01 -3.52
92.32 -4.56
92.63 -4.21
92.94 -4.91
93.25 -5.61
93.56 -7.70
93.87 -5.61
94.18 -4.91
94.42 -3.52
94.80 -2.47
95.11 -0.38
95.35 1.01
95.66 -2.82
95.97 -7.00
96.28 -12.57
96.59 -8.39
96.90 -5.61
97.21 -4.21
97.52 -2.12
97.83 -1.43
98.20 -0.73
98.51 -2.12
98.82 -3.17
99.13 -1.43
99.38 -3.52
99.69 -2.12
100.00 -1.43
100.37 -5.26
100.68 -5.61
100.99 -0.03
101.36 3.10
101.77 7.28
102.23 7.63
102.54 3.10
102.85 4.14
103.16 5.54
103.47 3.45
103.78 4.49
104.09 2.75
104.40 4.49
104.71 5.54
105.02 9.02
105.33 5.54
105.64 0.66
105.95 -1.43
106.26 -2.12
106.57 -0.73
106.88 3.45
107.25 5.54
107.56 2.05
107.96 2.05
108.27 2.75
108.74 2.40
109.11 2.05
};
\end{axis}

% ---------------- Panel 3: FGRIDDAT sticks ----------------
\begin{axis}[st, at={(61.43pt,182.23pt)}, height=104.21pt, ymin=-12.54, ymax=12.54, ylabel={FGRIDDAT}]
\addplot[stk, quiver={u=\thisrow{u}*1.069, v=\thisrow{v}}] table[x=t, y expr=0] {
t u v
-7.72 2.20 -6.17
-7.32 -1.39 -3.77
-6.93 -1.65 -1.22
-4.98 -1.65 -1.65
-3.41 -6.15 0.23
-1.26 -8.16 1.01
-0.09 -9.33 2.46
2.45 -3.77 -1.22
2.45 3.66 -8.99
2.66 -1.46 -2.61
5.97 -2.38 -3.62
6.95 -1.46 -4.20
7.14 -5.86 1.30
10.08 -7.32 0.14
11.25 2.31 -2.52
12.03 -3.84 -2.70
13.01 -1.83 -2.12
14.97 4.03 -2.32
15.36 2.01 -6.23
16.07 0.07 -6.23
16.92 -2.38 -1.45
19.66 -5.23 2.41
20.05 -6.59 1.65
20.05 -1.28 1.45
22.00 -7.32 1.01
22.99 -1.46 -1.59
23.96 -1.46 -2.61
25.06 0.99 -3.33
26.62 0.15 -3.77
29.04 -2.27 -6.67
29.83 -4.94 -4.72
31.00 -4.94 0.67
31.98 -5.97 5.59
32.96 -4.21 5.01
33.94 -3.84 1.74
35.11 7.87 -2.90
35.89 -1.83 -3.62
38.04 -3.73 1.45
39.14 0.00 4.55
40.00 -2.01 -3.77
41.18 -4.76 1.88
42.03 -0.07 5.22
43.91 2.49 2.23
45.29 2.27 -6.00
45.47 -6.22 -0.72
48.80 9.37 -1.45
49.20 -7.50 1.00
49.57 3.79 -1.45
51.49 -2.06 -6.00
51.49 1.62 -6.75
53.11 0.11 -4.78
54.58 4.33 -4.14
54.96 -0.90 -4.43
56.12 10.81 -0.29
57.28 7.93 -1.16
58.99 7.75 -2.03
59.20 3.24 1.36
60.36 0.79 4.35
61.13 -0.72 2.17
63.06 -3.24 4.58
64.13 -0.83 6.14
65.37 5.70 -7.33
67.10 0.00 -2.60
68.06 -5.59 -1.88
69.03 -3.42 4.35
70.19 2.88 6.17
71.15 3.60 3.10
73.07 -1.08 3.62
74.12 -0.79 -6.41
75.08 -8.54 -3.77
76.16 -5.12 3.77
77.11 -1.08 0.96
77.50 2.88 1.30
78.86 10.27 3.77
80.40 7.32 1.80
81.17 1.37 -7.01
82.13 -4.69 1.22
83.17 0.72 7.01
85.02 4.69 -5.80
86.10 6.49 -5.80
87.14 -1.98 -4.14
89.07 -6.67 5.51
90.22 1.62 -3.33
91.19 -1.62 -5.36
93.12 -5.95 -3.42
94.08 -2.34 -2.90
96.39 3.79 -6.29
96.77 -0.72 -3.33
99.09 0.90 -1.16
99.67 -4.15 0.43
100.25 2.16 -1.07
102.76 3.32 4.78
103.52 0.54 3.48
105.25 3.42 5.80
106.14 0.72 -1.30
106.98 -4.51 3.19
};
\addplot[stk] coordinates {(-3.92,6.76) (6.76,6.76)};
\node[anchor=west, inner sep=0] at (axis cs:7.54,6.76) {10 m/s};
\end{axis}

% ---------------- Panel 4: SURF_DATA sticks ----------------
\begin{axis}[st, at={(61.43pt,47.95pt)}, height=104.29pt, ymin=-13.4, ymax=13.4, ylabel={SURF\_DATA}]
\addplot[stk, quiver={u=\thisrow{u}*1.001, v=\thisrow{v}}] table[x=t, y expr=0] {
t u v
-7.13 2.54 -7.06
-7.13 5.08 -2.88
-6.93 0.00 -4.43
-6.23 -2.85 -2.26
-4.98 -3.91 -1.49
-4.59 -5.08 -0.93
-4.39 -0.98 -2.41
-1.07 -8.60 0.43
1.08 11.22 1.76
2.65 -3.01 -2.41
2.65 6.64 -8.76
3.24 -3.52 -3.19
5.97 -2.15 -4.12
6.95 -2.93 -2.26
10.08 -8.79 -0.87
11.06 1.17 -2.97
12.03 -2.62 -4.12
13.01 -1.37 -2.88
15.36 3.20 -1.95
15.75 2.07 -6.19
16.53 1.17 -5.51
17.31 -2.93 -1.80
21.61 -7.42 1.15
22.00 -9.30 0.93
22.87 -1.25 -2.26
23.88 -1.88 -2.97
25.33 0.78 -4.52
26.70 1.56 -4.27
26.89 -0.98 -2.26
28.26 0.39 -2.88
29.63 2.15 -5.82
29.82 -1.76 -6.28
31.00 -5.28 -1.02
32.18 -8.79 3.00
33.35 -9.18 3.47
34.13 -9.77 4.02
35.89 -0.20 -5.35
36.08 7.23 -2.97
37.65 -5.28 -0.71
39.02 -1.06 4.77
39.99 -1.95 -2.88
42.15 -3.71 4.70
44.10 0.59 2.69
45.66 -6.45 -3.65
45.86 -8.68 -2.10
45.86 3.52 -4.58
46.60 -3.50 0.00
51.11 3.27 -6.81
51.30 -1.73 -4.12
53.11 0.00 -4.95
54.19 5.85 -3.19
55.16 0.00 -4.27
56.12 9.81 1.36
56.31 7.12 -0.40
59.97 1.23 3.40
61.13 5.39 -1.49
63.06 -4.04 3.53
64.02 -4.43 5.88
65.75 8.28 -6.81
67.10 0.00 -3.96
68.07 -1.92 -3.96
69.03 -5.77 2.38
70.07 -0.19 5.79
70.38 3.66 1.92
72.69 -3.08 2.23
74.04 -0.58 -6.13
75.19 -8.47 -4.02
77.12 -6.74 1.15
77.89 2.31 1.45
78.09 8.47 1.36
79.24 6.93 4.55
81.17 0.58 -6.59
83.02 -0.77 5.69
85.41 5.58 -6.59
86.56 6.93 -5.35
86.76 -0.77 -4.58
88.10 -10.59 -1.02
89.06 -11.55 3.53
90.03 4.70 -3.28
91.19 0.19 -6.59
92.15 -5.20 -4.12
93.12 -5.58 -2.26
94.08 -3.08 -5.04
96.20 5.20 -4.95
97.16 1.92 -4.27
98.10 -2.89 -0.09
99.09 1.54 -1.42
100.24 2.69 -0.56
102.17 3.27 4.33
103.32 0.50 3.00
105.06 0.19 6.62
106.14 0.85 -2.10
107.18 -4.81 1.61
108.14 0.00 2.69
};
\addplot[stk] coordinates {(-3.92,6.72) (6.09,6.72)};
\node[anchor=west, inner sep=0] at (axis cs:6.95,6.72) {10 m/s};
\end{axis}
\end{tikzpicture}
\end{document}
